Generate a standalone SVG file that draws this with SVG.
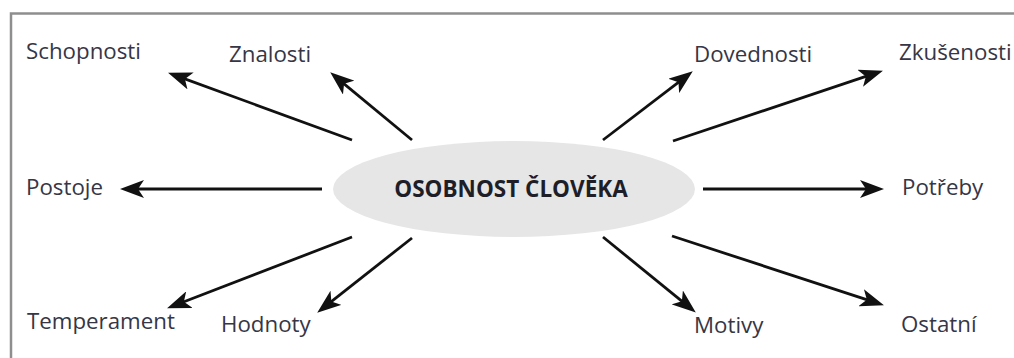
<svg xmlns="http://www.w3.org/2000/svg" width="1014" height="358" viewBox="0 0 1014 358">
<style>
.lbl{font-family:"Open Sans","Liberation Sans",sans-serif;font-size:22.3px;fill:#363645}
.ctr{font-family:"Open Sans","Liberation Sans",sans-serif;font-size:22.5px;font-weight:bold;fill:#1e1e28}
.arr{stroke:#111;stroke-width:2.8;fill:none;marker-end:url(#ah)}
</style>
<defs>
<marker id="ah" viewBox="0 0 24 18" refX="17" refY="9" markerWidth="24" markerHeight="18" markerUnits="userSpaceOnUse" orient="auto">
<path d="M0,0 L24,9 L0,18 L6,9 z" fill="#111"/>
</marker>
</defs>
<rect width="1014" height="358" fill="#fff"/>
<g id="frame" stroke="#8e8e8e" stroke-width="2.5" fill="none">
<path d="M11,358 L11,13.5 L1014,13.5"/>
</g>
<g id="connectors">
<line class="arr" x1="352" y1="140" x2="174.6" y2="75.1"/>
<line class="arr" x1="412" y1="140" x2="335.6" y2="76.8"/>
<line class="arr" x1="603" y1="140" x2="687.2" y2="75.6"/>
<line class="arr" x1="673" y1="141" x2="876.3" y2="72.9"/>
<line class="arr" x1="322" y1="189" x2="127" y2="189"/>
<line class="arr" x1="703" y1="189" x2="877" y2="189"/>
<line class="arr" x1="352" y1="237" x2="173.6" y2="305.8"/>
<line class="arr" x1="412" y1="238" x2="322.7" y2="308.3"/>
<line class="arr" x1="603" y1="237" x2="690.4" y2="308.2"/>
<line class="arr" x1="672" y1="236" x2="877.3" y2="303.1"/>
</g>
<g id="center">
<ellipse cx="514" cy="189" rx="181" ry="48" fill="#e6e6e6"/>
<text class="ctr" x="511" y="197" text-anchor="middle">OSOBNOST ČLOVĚKA</text>
</g>
<g id="schopnosti"><text class="lbl" x="26" y="59">Schopnosti</text></g>
<g id="znalosti"><text class="lbl" x="229" y="62">Znalosti</text></g>
<g id="dovednosti"><text class="lbl" x="694" y="62">Dovednosti</text></g>
<g id="zkusenosti"><text class="lbl" x="899" y="60">Zkušenosti</text></g>
<g id="postoje"><text class="lbl" x="26" y="195">Postoje</text></g>
<g id="potreby"><text class="lbl" x="902" y="195">Potřeby</text></g>
<g id="temperament"><text class="lbl" x="27" y="329">Temperament</text></g>
<g id="hodnoty"><text class="lbl" x="221" y="332">Hodnoty</text></g>
<g id="motivy"><text class="lbl" x="694" y="333">Motivy</text></g>
<g id="ostatni"><text class="lbl" x="901" y="332">Ostatní</text></g>
</svg>
